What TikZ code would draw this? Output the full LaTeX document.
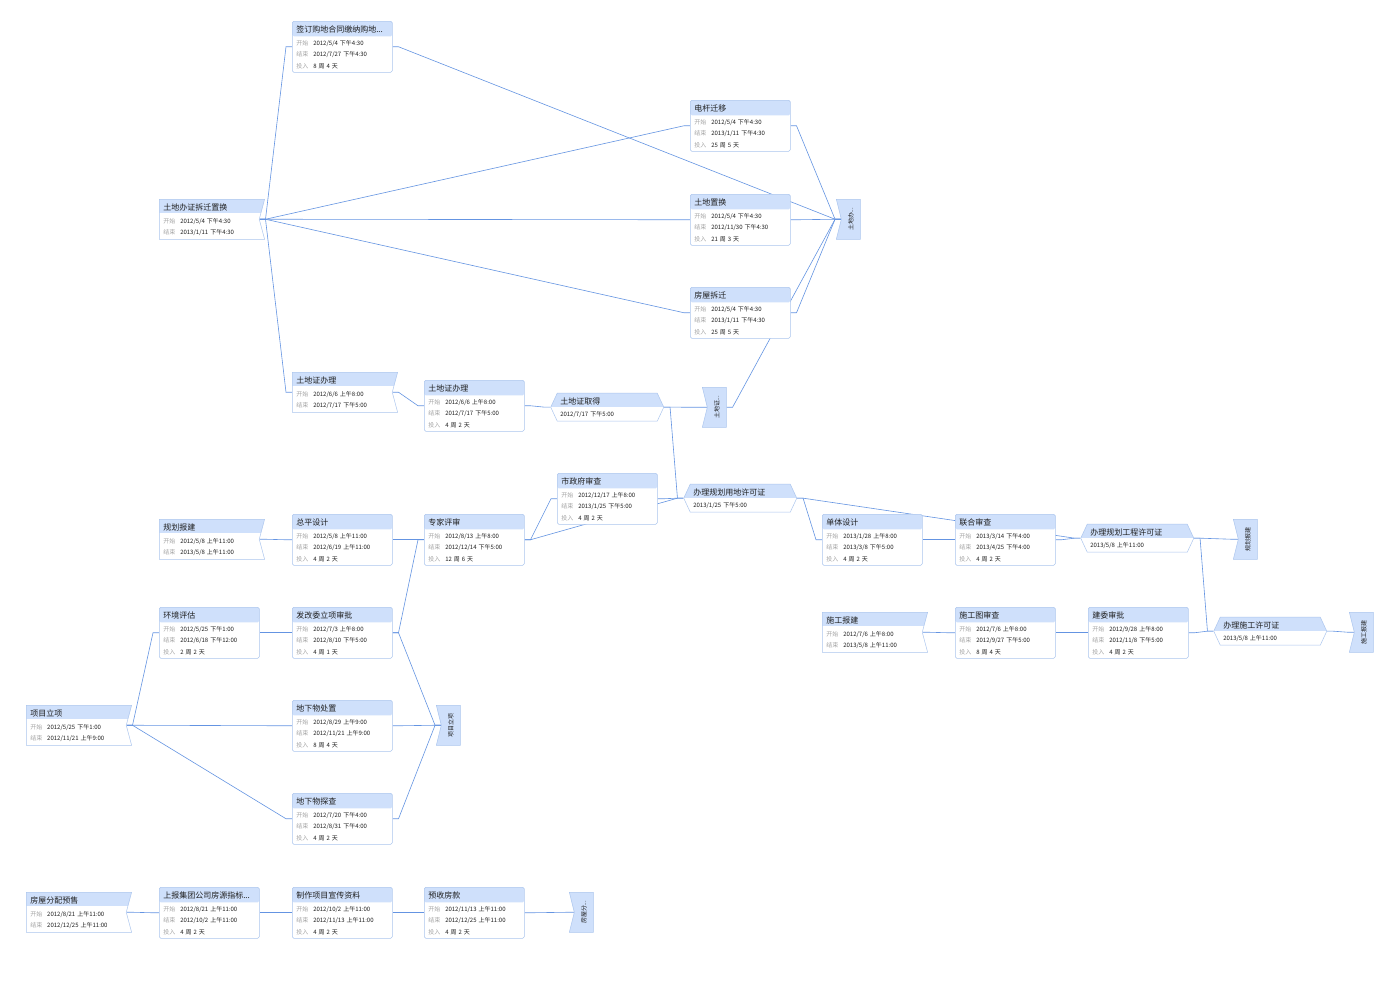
\documentclass[tikz,border=0pt]{standalone}
\usepackage{fontspec}
\setmainfont{Noto Sans CJK SC}
\usepackage{tikz}
\usetikzlibrary{calc}
\usetikzlibrary{shapes.symbols,backgrounds}
\definecolor{linec}{RGB}{100,148,226}
\definecolor{boxline}{RGB}{172,198,238}
\definecolor{hdr}{RGB}{207,224,251}
\definecolor{lab}{RGB}{165,165,165}
\definecolor{val}{RGB}{30,30,30}
\newcommand{\ttl}[1]{{\fontsize{8}{11.2}\selectfont\rule{0pt}{8pt}#1}\\[1.5pt]}
\newcommand{\rw}[2]{\makebox[17pt][l]{\color{lab}#1}#2}
\newcommand{\tsk}[4]{\ttl{#1}\rw{开始}{#2}\\\rw{结束}{#3}\\\rw{投入}{#4}}
\newcommand{\smry}[3]{\ttl{#1}\rw{开始}{#2}\\\rw{结束}{#3}}
\newcommand{\mlst}[2]{\ttl{#1}#2}

\begin{document}
\begin{tikzpicture}[x=1pt,y=-1pt,
    every node/.style={font=\fontsize{6}{11.2}\selectfont, text=val},
    box/.style={draw=boxline, fill=white, line width=0.5pt, anchor=north west, align=left,
      path picture={\fill[hdr] (path picture bounding box.north west) rectangle ([yshift=-#1]path picture bounding box.north east);}},
    task/.style={box=15pt, rectangle, rounded corners=1.5pt, text width=92pt, inner xsep=4pt, inner ysep=0pt, minimum height=51pt},
    summary/.style={box=14pt, signal, signal to=nowhere, signal from=east, signal pointer angle=150, text width=92pt, inner xsep=4pt, inner ysep=0pt, minimum height=40pt},
    mile/.style={box=14pt, signal, signal to=east and west, signal pointer angle=130, text width=94pt, inner xsep=3pt, inner ysep=0pt, minimum height=28pt},
    finish/.style={draw=boxline, fill=hdr, line width=0.5pt, anchor=north west, signal, signal to=nowhere, signal from=west, signal pointer angle=152, inner sep=0pt, minimum width=24pt, minimum height=40pt},
    link/.style={draw=linec, line width=0.6pt, to path={-- ++(6,0) -- ([xshift=-6pt]\tikztotarget) -- (\tikztotarget)}}]
  \useasboundingbox (0,0) rectangle (1399,1007);

  \node[summary] (s1) at (159,199) {\smry{土地办证拆迁置换}{2012/5/4 下午4:30}{2013/1/11 下午4:30}};
  \node[task] (sign) at (292,21) {\tsk{签订购地合同缴纳购地...}{2012/5/4 下午4:30}{2012/7/27 下午4:30}{8 周 4 天}};
  \node[task] (dg) at (690,100) {\tsk{电杆迁移}{2012/5/4 下午4:30}{2013/1/11 下午4:30}{25 周 5 天}};
  \node[task] (tz) at (690,194) {\tsk{土地置换}{2012/5/4 下午4:30}{2012/11/30 下午4:30}{21 周 3 天}};
  \node[task] (fc) at (690,287) {\tsk{房屋拆迁}{2012/5/4 下午4:30}{2013/1/11 下午4:30}{25 周 5 天}};
  \node[finish] (e1) at (836,199) {\rotatebox{90}{土地办...}};

  \node[summary] (s2) at (292,372) {\smry{土地证办理}{2012/6/6 上午8:00}{2012/7/17 下午5:00}};
  \node[task] (tzb) at (424,380) {\tsk{土地证办理}{2012/6/6 上午8:00}{2012/7/17 下午5:00}{4 周 2 天}};
  \node[mile] (m1) at (557,393) {\mlst{土地证取得}{2012/7/17 下午5:00}};
  \node[finish] (e2) at (702,387) {\rotatebox{90}{土地证...}};

  \node[summary] (s3) at (159,519) {\smry{规划报建}{2012/5/8 上午11:00}{2013/5/8 上午11:00}};
  \node[task] (zp) at (292,514) {\tsk{总平设计}{2012/5/8 上午11:00}{2012/6/19 上午11:00}{4 周 2 天}};
  \node[task] (zj) at (424,514) {\tsk{专家评审}{2012/8/13 上午8:00}{2012/12/14 下午5:00}{12 周 6 天}};
  \node[task] (szf) at (557,473) {\tsk{市政府审查}{2012/12/17 上午8:00}{2013/1/25 下午5:00}{4 周 2 天}};
  \node[mile] (m2) at (690,484) {\mlst{办理规划用地许可证}{2013/1/25 下午5:00}};
  \node[task] (dt) at (822,514) {\tsk{单体设计}{2013/1/28 上午8:00}{2013/3/8 下午5:00}{4 周 2 天}};
  \node[task] (lh) at (955,514) {\tsk{联合审查}{2013/3/14 下午4:00}{2013/4/25 下午4:00}{4 周 2 天}};
  \node[mile] (m3) at (1087,524) {\mlst{办理规划工程许可证}{2013/5/8 上午11:00}};
  \node[finish] (e5) at (1233,519) {\rotatebox{90}{规划报建}};

  \node[summary] (s4) at (26,705) {\smry{项目立项}{2012/5/25 下午1:00}{2012/11/21 上午9:00}};
  \node[task] (hj) at (159,607) {\tsk{环境评估}{2012/5/25 下午1:00}{2012/6/18 下午12:00}{2 周 2 天}};
  \node[task] (fg) at (292,607) {\tsk{发改委立项审批}{2012/7/3 上午8:00}{2012/8/10 下午5:00}{4 周 1 天}};
  \node[task] (dxcz) at (292,700) {\tsk{地下物处置}{2012/8/29 上午9:00}{2012/11/21 上午9:00}{8 周 4 天}};
  \node[task] (dxtc) at (292,793) {\tsk{地下物探查}{2012/7/20 下午4:00}{2012/8/31 下午4:00}{4 周 2 天}};
  \node[finish] (e3) at (436,705) {\rotatebox{90}{项目立项}};

  \node[summary] (s5) at (822,612) {\smry{施工报建}{2012/7/6 上午8:00}{2013/5/8 上午11:00}};
  \node[task] (sgt) at (955,607) {\tsk{施工图审查}{2012/7/6 上午8:00}{2012/9/27 下午5:00}{8 周 4 天}};
  \node[task] (jw) at (1088,607) {\tsk{建委审批}{2012/9/28 上午8:00}{2012/11/8 下午5:00}{4 周 2 天}};
  \node[mile] (m4) at (1220,617) {\mlst{办理施工许可证}{2013/5/8 上午11:00}};
  \node[finish] (e6) at (1349,612) {\rotatebox{90}{施工报建}};

  \node[summary] (s6) at (26,892) {\smry{房屋分配预售}{2012/8/21 上午11:00}{2012/12/25 上午11:00}};
  \node[task] (sb) at (159,887) {\tsk{上报集团公司房源指标...}{2012/8/21 上午11:00}{2012/10/2 上午11:00}{4 周 2 天}};
  \node[task] (zz) at (292,887) {\tsk{制作项目宣传资料}{2012/10/2 上午11:00}{2012/11/13 上午11:00}{4 周 2 天}};
  \node[task] (ys) at (424,887) {\tsk{预收房款}{2012/11/13 上午11:00}{2012/12/25 上午11:00}{4 周 2 天}};
  \node[finish] (e4) at (569,892) {\rotatebox{90}{房屋分...}};

  \begin{pgfonlayer}{background}
    \fill[white] (0,0) rectangle (1399,1007);
    \draw[link] (s1.east) to (sign.west);
    \draw[link] (s1.east) to (dg.west);
    \draw[link] (s1.east) to (tz.west);
    \draw[link] (s1.east) to (fc.west);
    \draw[link] (s1.east) to (s2.west);
    \draw[link] (sign.east) to (e1.west);
    \draw[link] (dg.east) to (e1.west);
    \draw[link] (tz.east) to (e1.west);
    \draw[link] (fc.east) to (e1.west);
    \draw[link] (s2.east) to (tzb.west);
    \draw[link] (tzb.east) to (m1.west);
    \draw[link] (m1.east) to (e2.west);
    \draw[link] (m1.east) to (m2.west);
    \draw[link] (e2.east) to (e1.west);
    \draw[link] (s3.east) to (zp.west);
    \draw[link] (zp.east) to (zj.west);
    \draw[link] (fg.east) to (zj.west);
    \draw[link] (fg.east) to (e3.west);
    \draw[link] (hj.east) to (fg.west);
    \draw[link] (s4.east) to (hj.west);
    \draw[link] (s4.east) to (dxcz.west);
    \draw[link] (s4.east) to (dxtc.west);
    \draw[link] (dxcz.east) to (e3.west);
    \draw[link] (dxtc.east) to (e3.west);
    \draw[link] (zj.east) to (szf.west);
    \draw[link] (zj.east) to (m2.west);
    \draw[link] (szf.east) to (m2.west);
    \draw[link] (m2.east) to (dt.west);
    \draw[link] (m2.east) to (m3.west);
    \draw[link] (dt.east) to (lh.west);
    \draw[link] (lh.east) to (m3.west);
    \draw[link] (m3.east) to (e5.west);
    \draw[link] (m3.east) to (m4.west);
    \draw[link] (s5.east) to (sgt.west);
    \draw[link] (sgt.east) to (jw.west);
    \draw[link] (jw.east) to (m4.west);
    \draw[link] (m4.east) to (e6.west);
    \draw[link] (s6.east) to (sb.west);
    \draw[link] (sb.east) to (zz.west);
    \draw[link] (zz.east) to (ys.west);
    \draw[link] (ys.east) to (e4.west);
  \end{pgfonlayer}
\end{tikzpicture}
\end{document}
